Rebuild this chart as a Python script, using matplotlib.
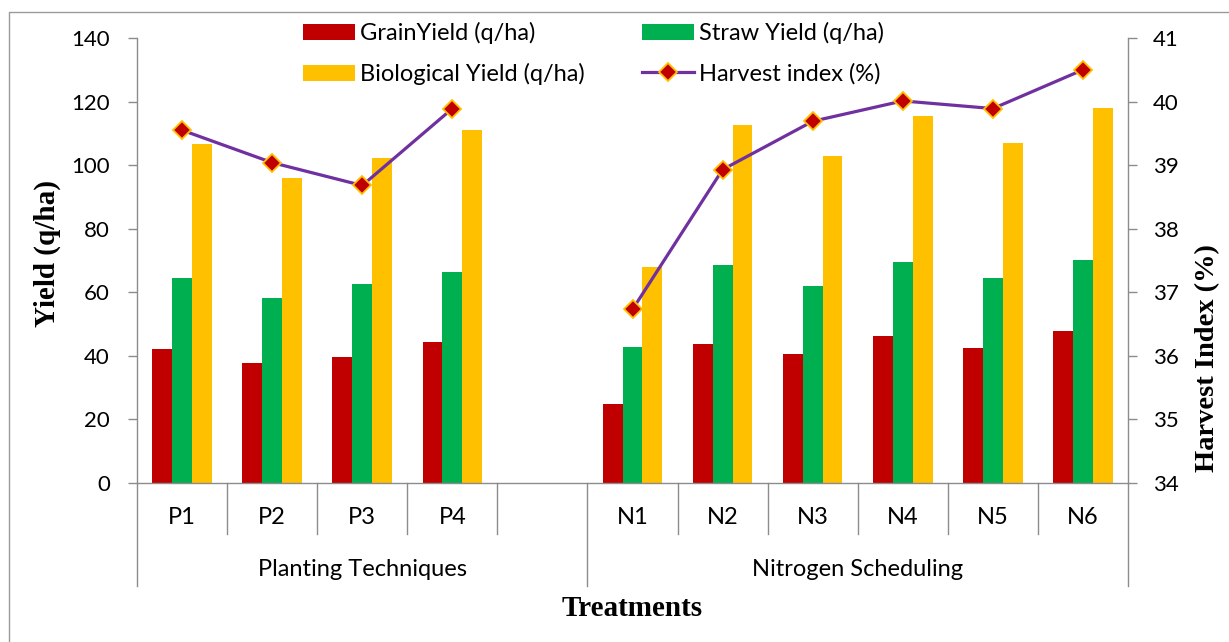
import numpy as np
import matplotlib
matplotlib.use("Agg")
import matplotlib.pyplot as plt
from matplotlib import transforms
from matplotlib.lines import Line2D

# ---- data ----
categories = ["P1", "P2", "P3", "P4", "", "N1", "N2", "N3", "N4", "N5", "N6"]
groups = ["Planting Techniques", "Nitrogen Scheduling"]
group_spans = [(0, 4), (5, 10)]  # inclusive category index spans (group 1 includes blank slot)
grain_yield = [42.3, 37.7, 39.6, 44.4, np.nan, 24.8, 43.7, 40.7, 46.2, 42.6, 47.9]
straw_yield = [64.5, 58.3, 62.6, 66.4, np.nan, 42.9, 68.6, 61.9, 69.4, 64.4, 70.1]
bio_yield = [106.8, 96.1, 102.3, 111.0, np.nan, 67.9, 112.5, 102.8, 115.6, 107.1, 118.1]
harvest_index = [39.55, 39.04, 38.68, 39.89, np.nan, 36.73, 38.93, 39.69, 40.01, 39.89, 40.50]
y_ticks = [0, 20, 40, 60, 80, 100, 120, 140]
y2_ticks = [34, 35, 36, 37, 38, 39, 40, 41]

W, H = 1229, 642
fig = plt.figure(figsize=(W / 100, H / 100), dpi=100)
fig.patch.set_facecolor("white")

sans = "Lato"
serif = "Liberation Serif"
gray = "#8c8c8c"
fs_tick = 16
fs_text = 17

ax = fig.add_axes([137 / W, 1 - 483 / H, (1128 - 137) / W, (483 - 38) / H])
ax2 = ax.twinx()

x = np.arange(len(categories))
bw = 0.22
b1 = ax.bar(x - bw, grain_yield, bw, color="#C00000", label="GrainYield (q/ha)", zorder=2)
b2 = ax.bar(x, straw_yield, bw, color="#00B050", label="Straw Yield (q/ha)", zorder=2)
b3 = ax.bar(x + bw, bio_yield, bw, color="#FFC000", label="Biological Yield (q/ha)", zorder=2)

ln, = ax2.plot(x, harvest_index, color="#7030A0", lw=2.3, marker="D", ms=9.2,
               markerfacecolor="#C00000", markeredgecolor="#FFC000", markeredgewidth=1.3,
               label="Harvest index (%)", zorder=3)

ax.set_xlim(-0.5, len(categories) - 0.5)
ax.set_ylim(0, 140)
ax2.set_ylim(34, 41)
ax.set_yticks(y_ticks)
ax2.set_yticks(y2_ticks)
ax.set_xticks([])

for a in (ax, ax2):
    a.spines["top"].set_visible(False)
    for s in a.spines.values():
        s.set_color(gray)
        s.set_linewidth(1.0)
ax.spines["right"].set_visible(False)
ax2.spines["left"].set_visible(False)
ax2.spines["bottom"].set_visible(False)

ax.tick_params(axis="y", length=6.5, width=1, color=gray, pad=13, labelsize=fs_tick)
ax2.tick_params(axis="y", length=6.5, width=1, color=gray, pad=11.5, labelsize=fs_tick)
for lab in ax.get_yticklabels() + ax2.get_yticklabels():
    lab.set_fontfamily(sans)

# ---- multi-level category axis ----
tr = transforms.blended_transform_factory(ax.transData, fig.transFigure)
y_axis = 1 - 483 / H
y_short = 1 - 534 / H
y_long = 1 - 586 / H
long_bounds = set()
for s, e in group_spans:
    long_bounds.add(s - 0.5)
    long_bounds.add(e + 0.5)
for i in range(len(categories) + 1):
    xb = i - 0.5
    yb = y_long if xb in long_bounds else y_short
    fig.add_artist(Line2D([xb, xb], [y_axis, yb], transform=tr, color=gray, lw=1.0))
for i, c in enumerate(categories):
    if c:
        fig.text(i, 1 - 517 / H, c, transform=tr, ha="center", va="center",
                 fontsize=fs_text, fontfamily=sans)
for g, (s, e) in zip(groups, group_spans):
    fig.text((s + e) / 2, 1 - 569 / H, g, transform=tr, ha="center", va="center",
             fontsize=fs_text, fontfamily=sans)

fig.text(632 / W, 1 - 609 / H, "Treatments", ha="center", va="center",
         fontsize=21, fontweight="bold", fontfamily=serif)
fig.text(47 / W, 1 - 254 / H, "Yield (q/ha)", ha="center", va="center", rotation=90,
         fontsize=21, fontweight="bold", fontfamily=serif)
fig.text(1208 / W, 1 - 358 / H, "Harvest Index (%)", ha="center", va="center", rotation=90,
         fontsize=20.5, fontweight="bold", fontfamily=serif)

# ---- legend ----
fig.legend([b1, b3, b2, ln],
           ["GrainYield (q/ha)", "Biological Yield (q/ha)", "Straw Yield (q/ha)", "Harvest index (%)"],
           ncol=2, loc="upper left", bbox_to_anchor=(303 / W, 1 - 22 / H),
           frameon=False, borderpad=0, borderaxespad=0, handlelength=2.2,
           handleheight=0.7, handletextpad=0.2, columnspacing=2.45, labelspacing=0.8,
           prop={"family": sans, "size": fs_text})

# ---- outer frame (top and left edges visible) ----
fx = 9 / W
fy = 1 - 12 / H
fig.add_artist(Line2D([fx, fx, 1.0], [0.0, fy, fy], transform=fig.transFigure,
                      color="#9a9a9a", lw=1.0))

fig.savefig("out.png", dpi=100)
